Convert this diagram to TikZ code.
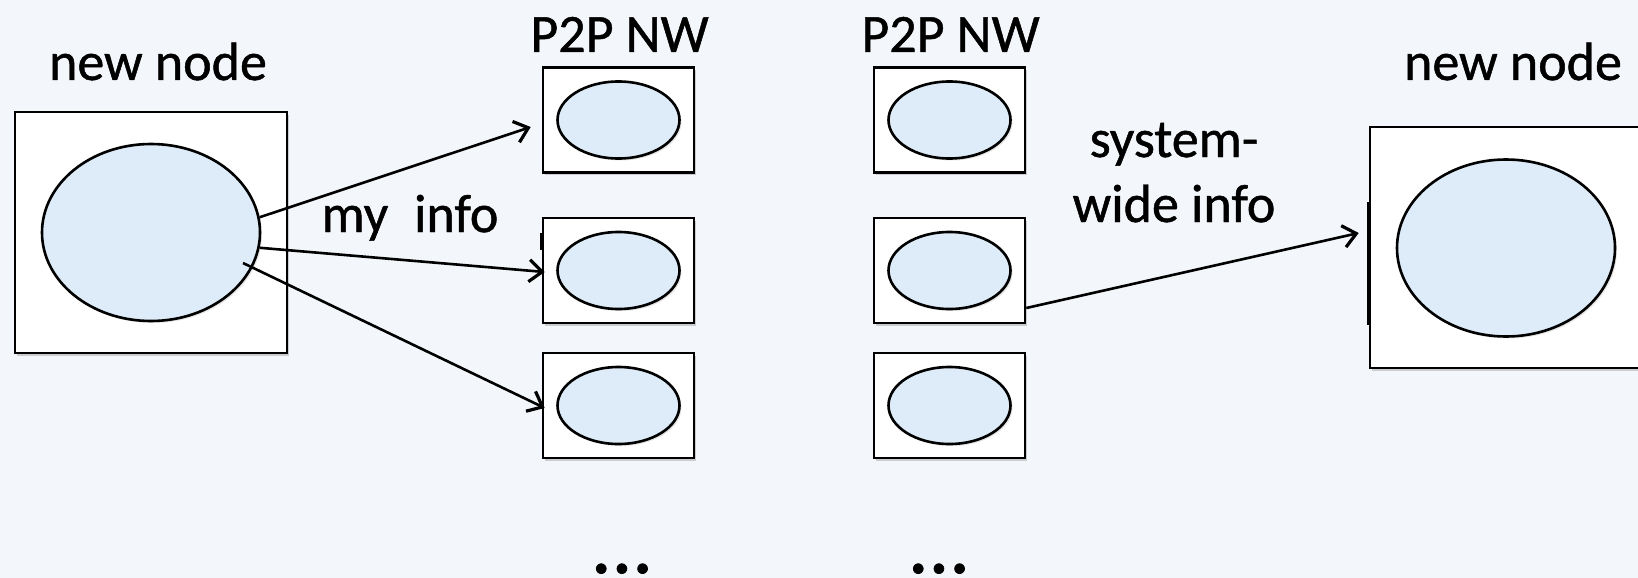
\documentclass[tikz,border=0pt]{standalone}
\usepackage{fontspec}
\setmainfont{Carlito}[FakeBold=0.9]
\usetikzlibrary{arrows.meta,shadows,calc,shapes.geometric}
\definecolor{bgc}{RGB}{243,246,251}
\definecolor{cellc}{RGB}{221,236,248}
\begin{document}
\begin{tikzpicture}[x=1pt,y=-1pt,
  box/.style={draw=black, line width=2.6pt, fill=white, minimum width=151pt, minimum height=105pt, inner sep=0pt,
    drop shadow={shadow xshift=2pt, shadow yshift=-2.5pt, opacity=0.35}},
  bigbox/.style={box, minimum width=272pt, minimum height=241pt},
  cell/.style={ellipse, draw=black, line width=2.6pt, fill=cellc, minimum width=122pt, minimum height=77pt, inner sep=0pt,
    drop shadow={shadow xshift=2pt, shadow yshift=-2pt, opacity=0.2}},
  bigcell/.style={cell, minimum width=218pt, minimum height=177pt},
  lbl/.style={font=\fontsize{54}{60}\selectfont, anchor=base, inner sep=0pt},
  dots/.style={font=\fontsize{82}{82}\selectfont, anchor=base, inner sep=0pt},
  arr/.style={line width=2.6pt, -{Straight Barb[length=13pt,width=22pt,line width=3.2pt]}},
  edgemark/.style={line width=4pt}]
\fill[bgc] (0,0) rectangle (1638,578);
\useasboundingbox (0,0) rectangle (1638,578);

% big nodes
\node[bigbox] (L) at (151,232.5) {};
\node[bigcell] (Le) at (151,232.5) {};
\node[bigbox] (R) at (1506,247.5) {};
\node[bigcell] (Re) at (1506,248) {};

% P2P network columns
\foreach \c/\x in {1/618.5, 2/949.5}{
  \foreach \r/\y in {1/120, 2/270.5, 3/405.5}{
    \node[box] (b\c\r) at (\x,\y) {};
    \node[cell] (e\c\r) at (\x,\y) {};
  }
}

% marks on edges
\draw[edgemark] ($(R.west)+(0,-45.5)$) -- ($(R.west)+(0,77.5)$);
\draw[edgemark] ($(b12.west)+(0,-37.5)$) -- ($(b12.west)+(0,-20.5)$);

% labels
\node[lbl] (t1) at (158,80) {new node};
\node[lbl] (t2) at (619.5,52) {P2P NW};
\node[lbl] (t3) at (950.5,52) {P2P NW};
\node[lbl] (t4) at (1513,80) {new node};
\node[lbl] (t5) at (410,232) {my\hspace{0.48em}info};
\node[lbl] (t6) at (1174,157) {system-};
\node[lbl] (t7) at (1174,222) {wide info};
\node[dots] (d1) at (622,573) {...};
\node[dots] (d2) at (939,573) {...};

% arrows
\draw[arr] (Le.8) -- ($(b11.west)+(-11,7)$);
\draw[arr] (Le.-8) -- ($(b12.west)+(3,1.5)$);
\draw[arr] ($(Le.center)+(92,30.5)$) -- ($(b13.west)+(3,2.5)$);
\draw[arr] ($(b22.east)+(0,37.5)$) -- ($(R.west)+(-10,-14.5)$);
\end{tikzpicture}
\end{document}
